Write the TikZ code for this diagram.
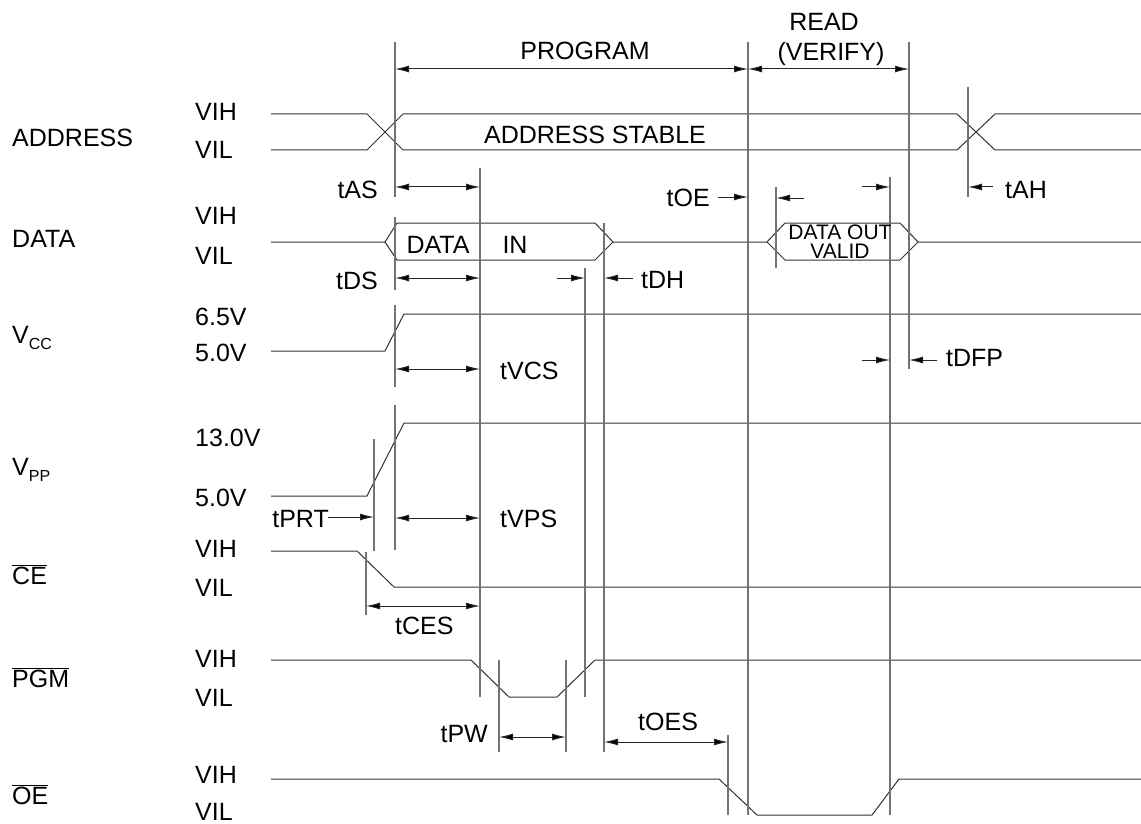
\documentclass[tikz,border=0pt]{standalone}
\usepackage{fontspec}
\setmainfont{Liberation Sans}
\usetikzlibrary{arrows.meta}

\begin{document}
\begin{tikzpicture}[x=1pt, y=-1pt,
every node/.style = {inner sep=0pt, text height=18pt, text depth=0pt,
                     font=\fontsize{25}{30}\selectfont},
sig/.style   = {draw=black!80, line width=1pt},
tick/.style  = {draw=black!55, line width=1.3pt},
dim/.style   = {draw=black!85, line width=1pt,
                {Latex[length=14pt,width=7pt,fill=black]}-{Latex[length=14pt,width=7pt,fill=black]}},
dimto/.style = {draw=black!85, line width=1pt, -{Latex[length=14pt,width=7pt,fill=black]}},
small/.style = {font=\fontsize{21}{21}\selectfont, text height=15pt}]
\useasboundingbox (0,0) rectangle (1141,824);

% signal names
\begin{scope}[nodes={anchor=west}]
\node (address) at (12,138) {ADDRESS};
\node (data) at (12,238) {DATA};
\node (vcc) at (12,334) {V\raisebox{-6pt}{\fontsize{16}{16}\selectfont CC}};
\node (vpp) at (12,466) {V\raisebox{-6pt}{\fontsize{16}{16}\selectfont PP}};
\node (ce) at (12,575) {$\overline{\mbox{CE}}$};
\node (pgm) at (12,678) {$\overline{\mbox{PGM}}$};
\node (oe) at (12,795) {$\overline{\mbox{OE}}$};
% levels
\node (addrHigh) at (195,112) {VIH};
\node (addrLow) at (195,150) {VIL};
\node (dataHigh) at (195,215) {VIH};
\node (dataLow) at (195,255) {VIL};
\node (vccHigh) at (195,316) {6.5V};
\node (vccLow) at (195,352) {5.0V};
\node (vppHigh) at (195,437) {13.0V};
\node (vppLow) at (195,497) {5.0V};
\node (ceHigh) at (195,548) {VIH};
\node (ceLow) at (195,587) {VIL};
\node (pgmHigh) at (195,658) {VIH};
\node (pgmLow) at (195,697) {VIL};
\node (oeHigh) at (195,774) {VIH};
\node (oeLow) at (195,811) {VIL};
\end{scope}

% waveforms
\draw[sig] (271,114) -- (367,114) -- (403,150) -- (957,150) -- (995,114) -- (1141,114);
\draw[sig] (271,150) -- (367,150) -- (403,114) -- (957,114) -- (995,150) -- (1141,150);
\draw[sig] (271,242) -- (385,242) -- (397,223) -- (595,223) -- (613,242) -- (767,242)
           -- (785,223) -- (900,223) -- (918,242) -- (1141,242);
\draw[sig] (385,242) -- (397,260) -- (595,260) -- (613,242);
\draw[sig] (767,242) -- (785,260) -- (900,260) -- (918,242);
\draw[sig] (271,351) -- (385,351) -- (404,314) -- (1141,314);
\draw[sig] (271,496) -- (367,496) -- (404,423) -- (1141,423);
\draw[sig] (271,551) -- (357,551) -- (394,587) -- (1141,587);
\draw[sig] (271,660) -- (471,660) -- (509,697) -- (557,697) -- (595,660) -- (1141,660);
\draw[sig] (271,779) -- (719,779) -- (757,815) -- (872,815) -- (899,779) -- (1141,779);

% extension lines
\draw[tick] (395,42) -- (395,197)  (395,217) -- (395,290)
            (395,305) -- (395,387) (395,405) -- (395,550);
\draw[tick] (480,168) -- (480,697) (585,268) -- (585,697) (604,223) -- (604,752);
\draw[tick] (748,42) -- (748,815) (909,42) -- (909,369) (890,177) -- (890,815);
\draw[tick] (776,187) -- (776,268) (968,87) -- (968,197);
\draw[tick] (374,439) -- (374,551) (366,552) -- (366,615);
\draw[tick] (499,660) -- (499,752) (566,660) -- (566,752) (728,735) -- (728,815);

% timing arrows
\draw[dim] (395,69) -- (748,69);
\draw[dim] (748,69) -- (909,69);
\draw[dim] (395,187) -- (480,187);
\draw[dim] (395,278) -- (480,278);
\draw[dim] (395,369) -- (480,369);
\draw[dim] (395,518) -- (480,518);
\draw[dim] (366,606) -- (480,606);
\draw[dim] (499,737) -- (566,737);
\draw[dim] (604,742) -- (728,742);
\draw[dimto] (718,197) -- (748,197);
\draw[dimto] (804,198) -- (776,198);
\draw[dimto] (862,187) -- (890,187);
\draw[dimto] (993,187) -- (968,187);
\draw[dimto] (557,278) -- (585,278);
\draw[dimto] (633,278) -- (604,278);
\draw[dimto] (862,360) -- (890,360);
\draw[dimto] (937,360) -- (909,360);
\draw[dimto] (328,517) -- (374,517);

% texts
\node (program) at (585,51) {PROGRAM};
\node (read) at (824,22) {READ};
\node (verify) at (831,52) {(VERIFY)};
\node (stable) at (595,135) {ADDRESS STABLE};
\node (dataIn) at (438,244) {DATA};
\node (in) at (515,244) {IN};
\node[small] (dataOut) at (840,232) {DATA OUT};
\node[small] (valid) at (840,251) {VALID};
\begin{scope}[nodes={anchor=east}]
\node (tAS) at (378,189) {tAS};
\node (tDS) at (378,280) {tDS};
\node (tOE) at (710,197) {tOE};
\node (tPRT) at (329,518) {tPRT};
\node (tPW) at (488,733) {tPW};
\end{scope}
\begin{scope}[nodes={anchor=west}]
\node (tAH) at (1005,189) {tAH};
\node (tDH) at (641,279) {tDH};
\node (tVCS) at (500,370) {tVCS};
\node (tDFP) at (946,357) {tDFP};
\node (tVPS) at (500,518) {tVPS};
\node (tCES) at (395,625) {tCES};
\node (tOES) at (638,721) {tOES};
\end{scope}
\end{tikzpicture}
\end{document}
